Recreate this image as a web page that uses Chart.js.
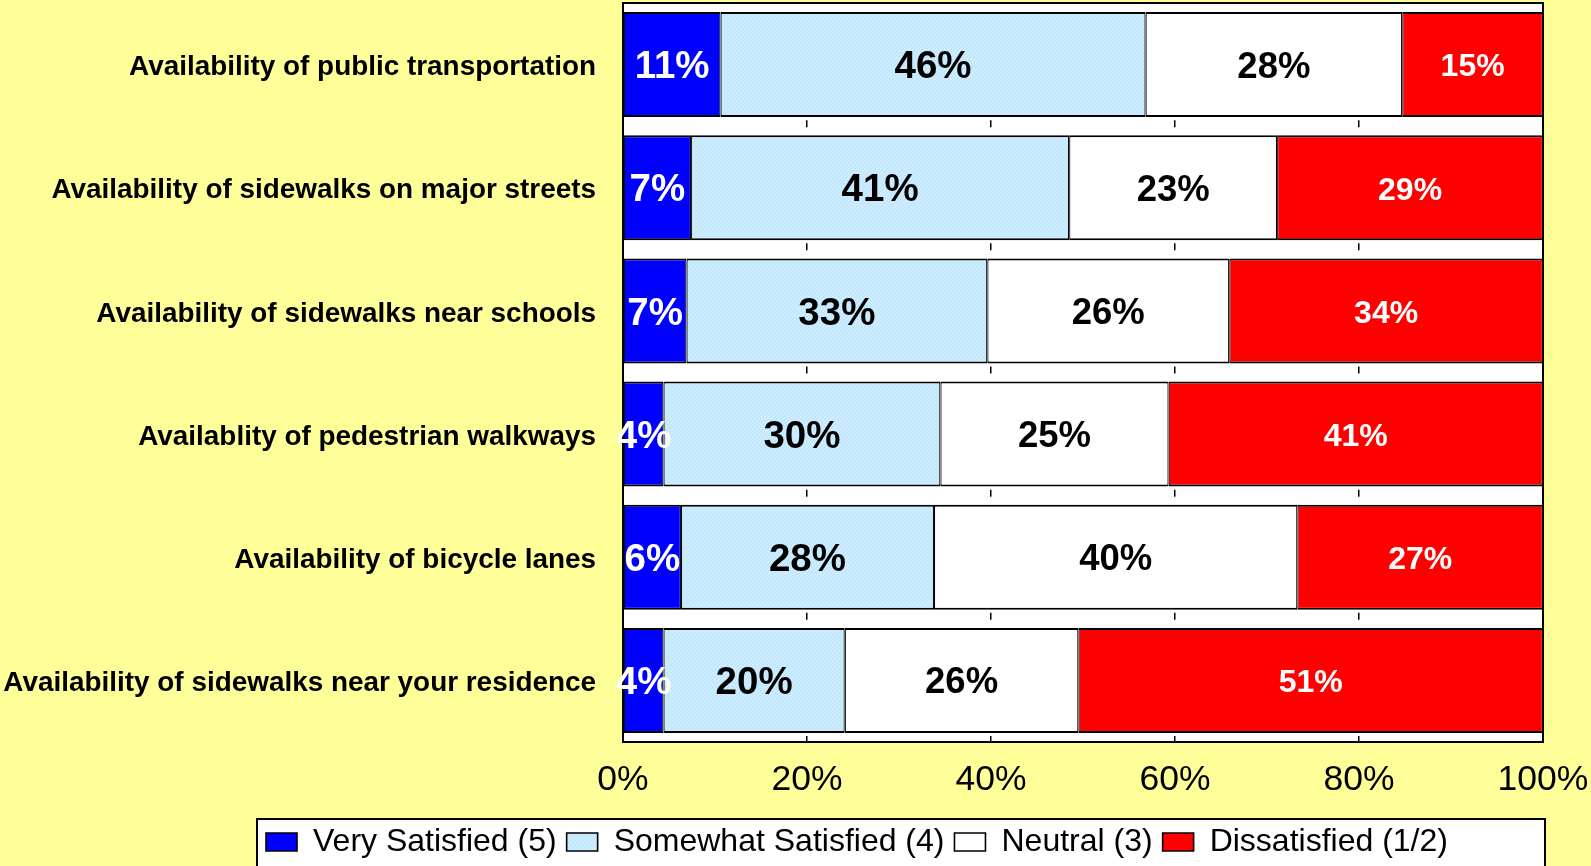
<!DOCTYPE html>
<html>
<head>
<meta charset="utf-8">
<script src="https://cdn.jsdelivr.net/npm/chart.js@4.4.1/dist/chart.umd.min.js"></script>
<style>
html,body{margin:0;padding:0;background:#FFFF99;overflow:hidden;}
#wrap{width:1591px;height:866px;position:relative;}
canvas{display:block;}
</style>
</head>
<body>
<div id="wrap"><canvas id="c" width="1591" height="866"></canvas></div>
<script>
// ---------- data ----------
const categories = [
  'Availability of public transportation',
  'Availability of sidewalks on major streets',
  'Availability of sidewalks near schools',
  'Availablity of pedestrian walkways',
  'Availability of bicycle lanes',
  'Availability of sidewalks near your residence'
];
const seriesNames = ['Very Satisfied (5)', 'Somewhat Satisfied (4)', 'Neutral (3)', 'Dissatisfied (1/2)'];

const verySatisfied     = [10.6,  7.4,  6.9,  4.4,  6.3,  4.4];
const somewhatSatisfied = [46.2, 41.1, 32.7, 30.1, 27.5, 19.7];
const neutral           = [27.9, 22.6, 26.3, 24.8, 39.5, 25.4];
const dissatisfied      = [15.3, 28.9, 34.1, 40.7, 26.7, 50.5];

const verySatisfiedLabels     = ['11%', '7%', '7%', '4%', '6%', '4%'];
const somewhatSatisfiedLabels = ['46%', '41%', '33%', '30%', '28%', '20%'];
const neutralLabels           = ['28%', '23%', '26%', '25%', '40%', '26%'];
const dissatisfiedLabels      = ['15%', '29%', '34%', '41%', '27%', '51%'];

const xTickLabels = ['0%', '20%', '40%', '60%', '80%', '100%'];

// ---------- styling ----------
const FONT = '"Liberation Sans", Arial, Helvetica, sans-serif';
const canvas = document.getElementById('c');
const ctx0 = canvas.getContext('2d');

function makeHatch() {
  const c = document.createElement('canvas');
  c.width = 4; c.height = 4;
  const g = c.getContext('2d');
  g.fillStyle = '#CCECFF';
  g.fillRect(0, 0, 4, 4);
  g.fillStyle = '#BDE3F8';
  g.fillRect(3, 0, 1, 1);
  g.fillRect(2, 1, 1, 1);
  g.fillRect(1, 2, 1, 1);
  g.fillRect(0, 3, 1, 1);
  return ctx0.createPattern(c, 'repeat');
}
const hatch = makeHatch();

const labelStyles = [
  { color: '#FFFFFF', size: 38.5 },
  { color: '#000000', size: 38.5 },
  { color: '#000000', size: 36.5 },
  { color: '#FFFFFF', size: 32 }
];

const barBorder = { top: 2, bottom: 2, left: 1.2, right: 1.2 };
function ds(label, data, labels, color) {
  return {
    label, data, valueLabels: labels,
    backgroundColor: color,
    borderColor: '#000000',
    borderWidth: barBorder,
    borderSkipped: false,
    barPercentage: 0.852,
    categoryPercentage: 1.0
  };
}

const bandCount = categories.length;
const plotTop = 3, plotBottom = 742;
const pitch = (plotBottom - plotTop) / bandCount;

function noScalePadding(s) {
  s.paddingTop = 0; s.paddingBottom = 0; s.paddingLeft = 0; s.paddingRight = 0;
}

const framePlugin = {
  id: 'framePlugin',
  beforeDraw(chart) {
    const { ctx, chartArea: a, width, height } = chart;
    ctx.save();
    ctx.fillStyle = '#FFFF99';
    ctx.fillRect(0, 0, width, height);
    ctx.fillStyle = '#FFFFFF';
    ctx.fillRect(a.left, a.top, a.right - a.left, a.bottom - a.top);
    // legend frame
    const lg = chart.legend;
    const bx = 257, by = 819, bw = 1545 - 257, bh = 60;
    lg.left = 256;
    lg.top = 816;
    ctx.fillStyle = '#FFFFFF';
    ctx.fillRect(bx, by, bw, bh);
    ctx.strokeStyle = '#000000';
    ctx.lineWidth = 2;
    ctx.strokeRect(bx, by, bw, bh);
    ctx.restore();
  },
  afterDatasetsDraw(chart) {
    const { ctx, chartArea: a } = chart;
    ctx.save();
    ctx.strokeStyle = '#000000';
    ctx.lineWidth = 2;
    ctx.strokeRect(a.left, a.top, a.right - a.left, a.bottom - a.top);
    ctx.restore();

    ctx.save();
    ctx.beginPath();
    ctx.rect(a.left - 6, a.top, a.right - a.left + 6, a.bottom - a.top);
    ctx.clip();
    ctx.textAlign = 'center';
    ctx.textBaseline = 'middle';
    chart.data.datasets.forEach((d, di) => {
      const st = labelStyles[di];
      ctx.fillStyle = st.color;
      ctx.font = 'bold ' + st.size + 'px ' + FONT;
      chart.getDatasetMeta(di).data.forEach((bar, i) => {
        const p = bar.getProps(['x', 'y', 'base'], true);
        ctx.fillText(d.valueLabels[i], (p.x + p.base) / 2, p.y + 3);
      });
    });
    ctx.restore();
  }
};

new Chart(canvas, {
  type: 'bar',
  data: {
    labels: categories,
    datasets: [
      ds(seriesNames[0], verySatisfied, verySatisfiedLabels, '#0000FF'),
      ds(seriesNames[1], somewhatSatisfied, somewhatSatisfiedLabels, hatch),
      ds(seriesNames[2], neutral, neutralLabels, '#FFFFFF'),
      ds(seriesNames[3], dissatisfied, dissatisfiedLabels, '#FF0000')
    ]
  },
  options: {
    indexAxis: 'y',
    responsive: false,
    animation: false,
    devicePixelRatio: 1,
    layout: { padding: { top: plotTop, right: 48, left: 0, bottom: 0 } },
    scales: {
      x: {
        stacked: true,
        min: 0, max: 100,
        ticks: {
          stepSize: 20,
          padding: 17,
          color: '#000000',
          font: { family: FONT, size: 35.5 },
          maxRotation: 0,
          callback: (v, i) => xTickLabels[i]
        },
        grid: {
          color: '#000000',
          lineWidth: 1.5,
          drawTicks: false
        },
        border: { display: false, dash: [7, pitch - 7], dashOffset: 6 },
        afterFit: s => { s.height = 72; noScalePadding(s); }
      },
      y: {
        stacked: true,
        ticks: {
          padding: 27,
          labelOffset: 3,
          color: '#000000',
          font: { family: FONT, size: 27.9, weight: 'bold' }
        },
        grid: { display: false, drawTicks: false },
        border: { display: false },
        afterFit: s => { s.width = 623; noScalePadding(s); }
      }
    },
    plugins: {
      tooltip: { enabled: false },
      legend: {
        position: 'bottom',
        align: 'start',
        labels: {
          boxWidth: 31,
          boxHeight: 18,
          padding: 10,
          color: '#000000',
          font: { family: FONT, size: 32 }
        }
      }
    }
  },
  plugins: [framePlugin]
});
</script>
</body>
</html>
